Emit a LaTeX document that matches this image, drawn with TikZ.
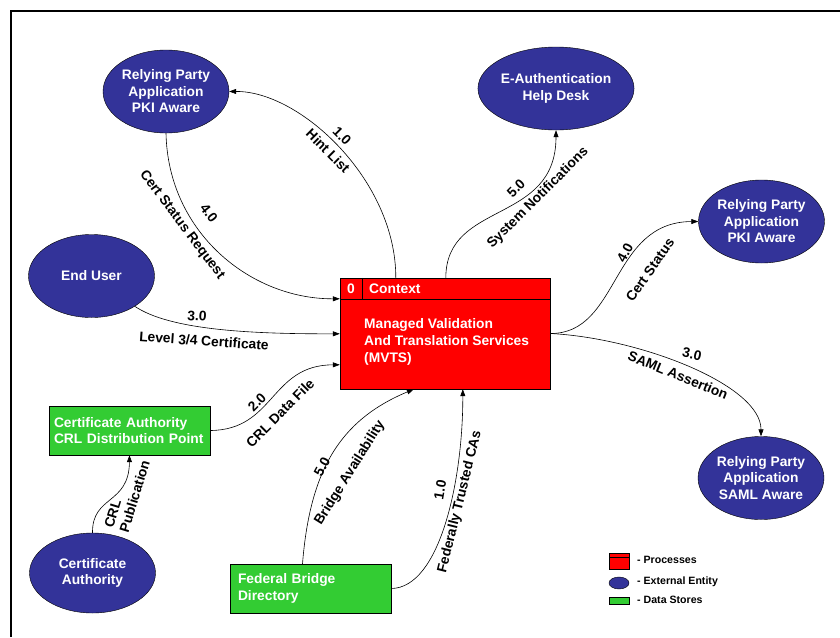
\documentclass[tikz,border=0pt]{standalone}
\usepackage{fontspec}
\setmainfont{Liberation Sans}
\usepackage{xcolor}
\usepackage{tikz}
\usetikzlibrary{arrows.meta,shapes.geometric,calc}
\definecolor{entblue}{RGB}{51,51,153}
\definecolor{storegreen}{RGB}{51,204,51}
\tikzset{
  flow/.style={-{Triangle[length=7pt,width=5pt]}, line width=0.6pt},
  flab/.style={inner sep=0pt, font=\bfseries\fontsize{13.8}{16}\selectfont},
  ext/.style={ellipse, draw, fill=entblue, text=white, minimum width=126pt, minimum height=83pt, inner sep=0pt, align=center, font=\bfseries\fontsize{13.8}{16.5}\selectfont},
  store/.style={rectangle, draw, fill=storegreen, text=white, minimum width=161pt, minimum height=49pt, inner ysep=0pt, inner xsep=5pt, text width=151pt, align=left, font=\bfseries\fontsize{13.8}{16.5}\selectfont},
  proc/.style={rectangle, draw, fill=red, minimum width=210pt, minimum height=111pt},
  ptext/.style={inner sep=0pt, text=white, font=\bfseries\fontsize{13.8}{17}\selectfont},
  legtext/.style={anchor=west, inner sep=0pt, font=\bfseries\fontsize{10.6}{12}\selectfont},
}
\begin{document}
\begin{tikzpicture}[>=Stealth, x=1pt, y=-1pt]
\useasboundingbox (0,0) rectangle (840,637);
% Frame
\draw[line width=2pt] (10.5,637) -- (10.5,10.5) -- (840,10.5);
% Process: MVTS
\node[proc] (mvts) at (445,333.5) {};
\draw ($(mvts.north west)+(0,21)$) -- ($(mvts.north east)+(0,21)$);
\draw ($(mvts.north west)+(22,0)$) -- ($(mvts.north west)+(22,21)$);
\node[ptext] (pnum) at (351,289) {0};
\node[ptext, anchor=west] (pctx) at (369,289) {Context};
\node[ptext, anchor=west, align=left] (pname) at (364,342) {Managed Validation\\And Translation Services\\(MVTS)};
% External entities
\node[ext] (rpA) at (166,91.5) {Relying Party\\Application\\PKI Aware};
\node[ext] (help) at (556,88.5) {E-Authentication\\Help Desk};
\node[ext] (rpB) at (761.5,221.5) {Relying Party\\Application\\PKI Aware};
\node[ext] (user) at (91.5,276) {End User};
\node[ext, minimum height=80pt] (ca) at (92.5,573) {Certificate\\Authority};
\node[ext] (rpS) at (761,478) {Relying Party\\Application\\SAML Aware};
% Data stores
\node[store] (crl) at (129.5,430.5) {Certificate Authority\\CRL Distribution Point};
\node[store, inner xsep=8pt, text width=145pt] (fbd) at (310.5,588.5) {Federal Bridge\\Directory};
% 1.0 Hint List
\draw[flow] ($(mvts.north west)+(56,0)$) .. controls (396,180) and (300,91) .. (rpA.east);
\node[flab, rotate=-45] (l1a) at (342,136) {1.0};
\node[flab, rotate=-45] (l1b) at (328,151) {Hint List};
% 4.0 Cert Status Request
\draw[flow] (rpA.south) .. controls (168,232) and (250,299) .. ($(mvts.north west)+(0,21)$);
\node[flab, rotate=-52] (l2a) at (209,213) {4.0};
\node[flab, rotate=-53] (l2b) at (182,225) {Cert Status Request};
% 3.0 Level 3/4 Certificate
\draw[flow] (user.-35) .. controls (170,330) and (250,334) .. ($(mvts.north west)+(0,56)$);
\node[flab, rotate=-4] (l3a) at (197,316) {3.0};
\node[flab, rotate=-4] (l3b) at (204,341) {Level 3/4 Certificate};
% 2.0 CRL Data File
\draw[flow] (crl.east) .. controls (275,430) and (270,365) .. ($(mvts.north west)+(0,87)$);
\node[flab, rotate=45] (l4a) at (257,402) {2.0};
\node[flab, rotate=45] (l4b) at (280,413) {CRL Data File};
% 5.0 Bridge Availability
\draw[flow] ($(fbd.north)+(-8,0)$) .. controls (310,470) and (340,420) .. ($(mvts.south west)+(74,0)$);
\node[flab, rotate=62] (l5a) at (322,467) {5.0};
\node[flab, rotate=58] (l5b) at (350,473) {Bridge Availability};
% 1.0 Federally Trusted CAs
\draw[flow] (fbd.east) .. controls (440,588) and (463,480) .. ($(mvts.south west)+(123,0)$);
\node[flab, rotate=80] (l6a) at (440,490) {1.0};
\node[flab, rotate=76] (l6b) at (460,502) {Federally Trusted CAs};
% CRL Publication
\draw[flow] (ca.north) .. controls (92,495) and (129,505) .. (crl.south);
\node[flab, rotate=73, align=left] (l7) at (127,494) {CRL\\Publication};
% 5.0 System Notifications
\draw[flow] ($(mvts.north west)+(106,0)$) .. controls (446,200) and (556,225) .. (help.south);
\node[flab, rotate=45] (l8a) at (516,188) {5.0};
\node[flab, rotate=45] (l8b) at (538,198) {System Notifications};
% 4.0 Cert Status
\draw[flow] (mvts.east) .. controls (620,334) and (610,222) .. (rpB.west);
\node[flab, rotate=62] (l9a) at (625,253) {4.0};
\node[flab, rotate=55] (l9b) at (650,270) {Cert Status};
% 3.0 SAML Assertion
\draw[flow] (mvts.east) .. controls (640,338) and (761,385) .. (rpS.north);
\node[flab, rotate=-12] (l10a) at (692,354) {3.0};
\node[flab, rotate=-22] (l10b) at (678,375) {SAML Assertion};
% Legend
\draw[fill=red] (609,553) rectangle (629,569);
\draw (609,557) -- (629,557);
\draw[fill=entblue] (619,583) ellipse [x radius=10, y radius=6];
\draw[fill=storegreen] (609,597) rectangle (629,604);
\node[legtext] (kproc) at (637,560) {- Processes};
\node[legtext] (kext) at (637,582) {- External Entity};
\node[legtext] (kstore) at (637,600) {- Data Stores};
\end{tikzpicture}
\end{document}
